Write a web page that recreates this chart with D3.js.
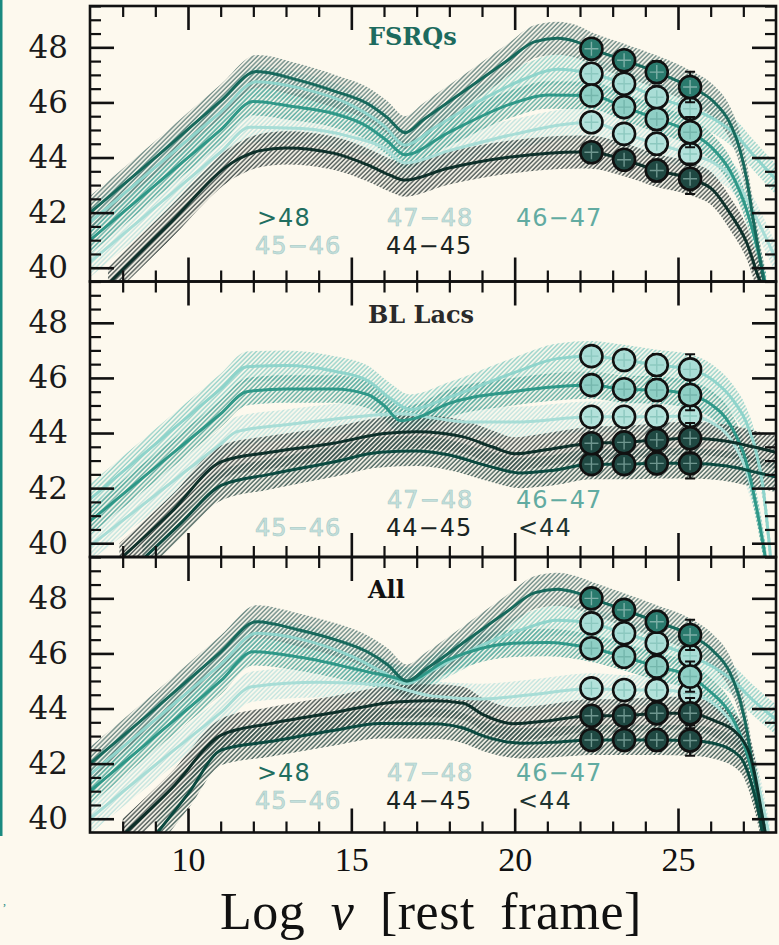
<!DOCTYPE html>
<html><head><meta charset="utf-8">
<script src="https://cdn.jsdelivr.net/npm/d3@7"></script>
<style>html,body{margin:0;padding:0;background:#fdf9ee;} svg{display:block}</style>
</head><body><svg id="chart" width="779" height="945"></svg>
<script>
// ---------------- DATA ----------------
const panelTitles = ["FSRQs", "BL Lacs", "All"];
const binLabels = {gt48: ">48", b4748: "47\u221248", b4647: "46\u221247", b4546: "45\u221246", b4445: "44\u221245", lt44: "<44"};
const xTickLabels = [10, 15, 20, 25];
const yTickLabels = [40, 42, 44, 46, 48];
const pointX = [22.35, 23.35, 24.35, 25.37];
const pointErr = [0.25, 0.3, 0.4, 0.55];
const bandHalf = {gt48: 0.6, b4748: 0.55, b4647: 0.5, b4546: 0.55, b4445: 0.6, lt44: 0.55};

// FSRQs
const fsrqGt48 = [[7,42.0],[9,44.0],[11,46.05],[12.1,47.12],[13.4,46.8],[14.5,46.4],[15.5,45.95],[16.1,45.45],[16.64,44.9],[17.2,45.37],[18.5,46.45],[19.8,47.54],[20.6,48.2],[21.3,48.33],[21.9,48.2],[22.35,47.95],[23.35,47.53],[24.35,47.1],[25.37,46.56],[26.07,46.05],[26.59,45.25],[26.9,44.27],[27.11,43.18],[27.29,41.84],[27.5,40.39],[27.66,39.3]];
const fsrq4748 = [[7,41.65],[9,43.65],[11,45.65],[12.1,46.75],[13.5,46.5],[15.0,45.9],[16.0,45.15],[16.64,44.45],[17.5,45.05],[19,46.1],[20.3,46.85],[21.3,47.2],[22.35,47.04],[23.35,46.68],[24.35,46.19],[25.37,45.77],[26.1,45.4],[26.7,44.9],[27.3,44.1],[28,43.2]];
const fsrq4647 = [[7,41.0],[9,43.0],[11,45.0],[12.0,46.03],[13.2,45.85],[14.45,45.6],[15.5,45.12],[16.1,44.6],[16.64,44.1],[17.93,44.88],[19.95,45.97],[21.0,46.27],[22.35,46.25],[23.35,45.83],[24.35,45.4],[25.37,44.92],[26.0,44.4],[26.6,43.5],[27.1,42.1],[27.45,40.6],[27.7,39.3]];
const fsrq4546 = [[7,40.2],[9,42.2],[11,44.2],[11.9,45.1],[13.5,45.05],[15,44.75],[16.0,44.35],[16.64,43.8],[18,44.25],[20,44.85],[21.5,45.2],[22.35,45.28],[23.35,44.86],[24.35,44.5],[25.37,44.13],[26.1,43.8],[26.8,43.1],[27.4,41.8],[28,40.3]];
const fsrq4445 = [[7.55,39.4],[9.35,41.5],[11.49,43.91],[12.2,44.25],[13.0,44.35],[14.45,44.16],[15.5,43.73],[16.2,43.35],[16.64,43.18],[17.93,43.6],[19.95,44.03],[22.0,44.2],[22.35,44.19],[23.35,43.92],[24.35,43.53],[25.37,43.23],[26.07,42.82],[26.59,41.98],[27.11,40.89],[27.5,39.55],[27.6,39.3]];
const fsrqPtsGt48 = [47.95, 47.53, 47.1, 46.56];
const fsrqPts4748 = [47.04, 46.68, 46.19, 45.77];
const fsrqPts4647 = [46.25, 45.83, 45.4, 44.92];
const fsrqPts4546 = [45.28, 44.86, 44.5, 44.13];
const fsrqPts4445 = [44.19, 43.92, 43.53, 43.23];

// BL Lacs
const bl4748 = [[7,41.6],[9,43.6],[11,45.6],[11.8,46.41],[13,46.45],[14.45,46.25],[15.5,45.9],[16.2,45.25],[16.8,44.85],[18,45.3],[20,46.2],[21.3,46.7],[22.35,46.79],[23.35,46.65],[24.35,46.47],[25.37,46.31],[26.07,45.92],[26.68,45.2],[27.1,44.36],[27.4,43.27],[27.6,42.05],[27.8,39.9],[27.85,39.3]];
const bl4647 = [[7,40.8],[9,42.75],[11,44.7],[11.8,45.5],[13,45.6],[14.45,45.6],[15.5,45.4],[16.0,45.0],[16.5,44.45],[17.0,44.55],[17.93,45.05],[19.95,45.5],[22.35,45.74],[23.35,45.59],[24.35,45.56],[25.37,45.38],[26.0,45.05],[26.6,44.3],[27.1,42.9],[27.45,41.0],[27.7,39.3]];
const bl4546 = [[7,39.9],[9,41.75],[11,43.6],[11.5,44.05],[13,44.3],[14.45,44.5],[16.5,44.7],[17.5,44.55],[18.5,44.4],[20,44.4],[22.35,44.59],[23.35,44.59],[24.35,44.59],[25.37,44.62],[26.0,44.4],[26.6,43.8],[27.1,42.6],[27.5,40.8],[27.7,39.3]];
const bl4445 = [[7.9,39.4],[9.5,41.15],[11.03,42.96],[12.5,43.3],[14.45,43.63],[16.0,43.98],[17.0,44.05],[18.4,43.87],[19.3,43.5],[20.0,43.25],[21.0,43.4],[22.35,43.63],[23.35,43.66],[24.35,43.75],[25.37,43.81],[26.5,43.7],[27.3,43.5],[28,43.3]];
const blLt44 = [[8.6,39.4],[9.8,40.75],[11.03,42.11],[12.5,42.5],[14.45,42.95],[15.88,43.3],[17.0,43.35],[18.0,43.2],[19.2,42.8],[20.2,42.55],[21.2,42.65],[22.35,42.87],[23.35,42.87],[24.35,42.9],[25.37,42.9],[26.5,42.8],[27.3,42.6],[28,42.4]];
const blPts4748 = [46.79, 46.65, 46.47, 46.31];
const blPts4647 = [45.74, 45.59, 45.56, 45.38];
const blPts4546 = [44.59, 44.59, 44.59, 44.62];
const blPts4445 = [43.63, 43.66, 43.75, 43.81];
const blPtsLt44 = [42.87, 42.87, 42.9, 42.9];

// All
const allGt48 = [[7,42.0],[9,44.0],[11,46.05],[12.1,47.15],[13.4,46.85],[14.5,46.5],[15.5,46.05],[16.1,45.6],[16.7,45.0],[17.3,45.45],[18.5,46.45],[19.8,47.55],[20.6,48.2],[21.3,48.33],[21.9,48.2],[22.35,48.0],[23.35,47.58],[24.35,47.15],[25.37,46.67],[26.07,46.1],[26.59,45.3],[26.9,44.3],[27.11,43.2],[27.29,41.85],[27.5,40.4],[27.66,39.3]];
const all4748 = [[7,41.6],[9,43.6],[11,45.6],[12.1,46.73],[13.5,46.5],[15.0,45.9],[16.0,45.3],[16.7,44.9],[17.5,45.4],[19,46.3],[20.3,46.9],[21.3,47.2],[22.35,47.09],[23.35,46.73],[24.35,46.37],[25.37,45.91],[26.1,45.5],[26.7,45.0],[27.3,44.3],[28,43.6]];
const all4647 = [[7,41.0],[9,43.0],[11,45.0],[12.0,46.06],[13.5,45.85],[15.47,45.34],[16.4,45.1],[16.7,45.0],[17.93,45.76],[19.95,46.37],[21.0,46.4],[22.35,46.19],[23.35,45.88],[24.35,45.52],[25.37,45.16],[26.0,44.6],[26.6,43.8],[27.1,42.4],[27.45,40.8],[27.7,39.3]];
const all4546 = [[7,40.0],[9,41.95],[11,43.85],[11.95,44.79],[14,44.95],[16,44.85],[17.5,44.45],[19,44.35],[20.5,44.5],[22.35,44.73],[23.35,44.67],[24.35,44.67],[25.37,44.55],[26,44.25],[26.7,43.4],[27.3,42.0],[27.8,39.3]];
const all4445 = [[8.0,39.4],[9.5,41.1],[11.03,43.04],[12.5,43.45],[14.45,43.85],[16.49,44.25],[17.5,44.28],[18.43,44.19],[19.0,43.8],[19.96,43.45],[21,43.55],[22.35,43.74],[23.35,43.74],[24.35,43.83],[25.37,43.83],[26.07,43.58],[26.9,42.98],[27.3,41.9],[27.55,40.3],[27.7,39.3]];
const allLt44 = [[9.0,39.4],[10.0,40.9],[11.03,42.5],[12.5,42.8],[14.45,43.2],[15.88,43.46],[17.5,43.45],[18.4,43.3],[19.1,42.98],[20.2,42.74],[21.2,42.78],[22.35,42.86],[23.35,42.86],[24.35,42.86],[25.37,42.84],[26.07,42.74],[26.9,42.25],[27.3,41.04],[27.55,39.7],[27.6,39.3]];
const allPtsGt48 = [48.0, 47.58, 47.15, 46.67];
const allPts4748 = [47.09, 46.73, 46.37, 45.91];
const allPts4647 = [46.19, 45.88, 45.52, 45.16];
const allPts4546 = [44.73, 44.67, 44.67, 44.55];
const allPts4445 = [43.74, 43.74, 43.83, 43.83];
const allPtsLt44 = [42.86, 42.86, 42.86, 42.84];

// ---------------- STYLE / LAYOUT ----------------
const W = 779, H = 945;
const plotL = 90, plotR = 776, panelH = 275.5;
const panelTops = [6, 281.5, 557];
const lineColor = {gt48:'#17695c', b4748:'#8fd4cb', b4647:'#2f9888', b4546:'#a8ddd6', b4445:'#0e302a', lt44:'#0b4a40'};
const hatchColor = {gt48:'#5f7f7a', b4748:'#8fcfc6', b4647:'#55a89c', b4546:'#bde2dd', b4445:'#3b4745', lt44:'#35524d'};
const legendColor = {gt48:'#1f6e60', b4748:'#c4e1dd', b4647:'#62aba1', b4546:'#c4e1dd', b4445:'#1a2422', lt44:'#1f3431'};
const circleFill = {gt48:'#2a7a6d', b4748:'#a9ddd6', b4647:'#8fcfc5', b4546:'#b3e2db', b4445:'#1f4842', lt44:'#1f4842'};
const crossColor = {gt48:'#7fb0a8', b4748:'#8cc8bf', b4647:'#74b6ac', b4546:'#8cc8bf', b4445:'#6f968f', lt44:'#6f968f'};
const legendSlot = {gt48:[0,0], b4748:[0,1], b4647:[0,2], b4546:[1,0], b4445:[1,1], lt44:[1,2]};
const slotX = [[257,387,516],[255,386,518]];
const bandOrder = ['b4546','b4748','b4647','gt48','b4445','lt44'];
const lineOrder = ['b4546','b4748','b4647','gt48','lt44','b4445'];

const panels = [
  {title: panelTitles[0], titleColor:'#1d6b5e', titleY:45, legendY:[226,254],
   curves:{gt48:fsrqGt48, b4748:fsrq4748, b4647:fsrq4647, b4546:fsrq4546, b4445:fsrq4445},
   pts:{gt48:fsrqPtsGt48, b4748:fsrqPts4748, b4647:fsrqPts4647, b4546:fsrqPts4546, b4445:fsrqPts4445}},
  {title: panelTitles[1], titleColor:'#2a2a2a', titleY:323, legendY:[508,536],
   curves:{b4748:bl4748, b4647:bl4647, b4546:bl4546, b4445:bl4445, lt44:blLt44},
   pts:{b4748:blPts4748, b4647:blPts4647, b4546:blPts4546, b4445:blPts4445, lt44:blPtsLt44}},
  {title: panelTitles[2], titleColor:'#111', titleY:598, legendY:[781,809],
   curves:{gt48:allGt48, b4748:all4748, b4647:all4647, b4546:all4546, b4445:all4445, lt44:allLt44},
   pts:{gt48:allPtsGt48, b4748:allPts4748, b4647:allPts4647, b4546:allPts4546, b4445:allPts4445, lt44:allPtsLt44}}
];

const svg = d3.select('#chart');
svg.append('rect').attr('width', W).attr('height', H).attr('fill', '#fdf9ee');
const defs = svg.append('defs');
Object.keys(hatchColor).forEach(k => {
  const p = defs.append('pattern').attr('id', 'h_' + k).attr('patternUnits', 'userSpaceOnUse')
    .attr('width', 3.2).attr('height', 3.2).attr('patternTransform', 'rotate(45)');
  p.append('line').attr('x1', 1).attr('y1', 0).attr('x2', 1).attr('y2', 3.2)
    .attr('stroke', hatchColor[k]).attr('stroke-width', 1.5);
});

// left teal rule and stray mark
svg.append('rect').attr('x', 0).attr('y', 0).attr('width', 2.5).attr('height', 836).attr('fill', '#1a8a80');
svg.append('text').attr('x', 3).attr('y', 905).attr('font-size', 12).attr('fill', '#1a8a80').text(',');

const x = d3.scaleLinear().domain([7, 28]).range([plotL, plotR]);

panels.forEach((P, i) => {
  const top = panelTops[i], bot = top + panelH;
  const y = d3.scaleLinear().domain([39.5, 49.5]).range([bot, top]);
  const cid = 'clip' + i;
  defs.append('clipPath').attr('id', cid).append('rect')
    .attr('x', plotL).attr('y', top).attr('width', plotR - plotL).attr('height', panelH);
  const g = svg.append('g').attr('clip-path', `url(#${cid})`);
  const line = d3.line().x(d => x(d[0])).y(d => y(d[1])).curve(d3.curveMonotoneX);
  bandOrder.forEach(k => {
    if (!P.curves[k]) return;
    const h = bandHalf[k];
    const area = d3.area().x(d => x(d[0])).y0(d => y(d[1] - h)).y1(d => y(d[1] + h)).curve(d3.curveMonotoneX);
    g.append('path').attr('d', area(P.curves[k])).attr('fill', `url(#h_${k})`).attr('opacity', 0.9);
  });
  lineOrder.forEach(k => {
    if (!P.curves[k]) return;
    g.append('path').attr('d', line(P.curves[k])).attr('fill', 'none')
      .attr('stroke', lineColor[k]).attr('stroke-width', 3).attr('stroke-linejoin', 'round');
  });
  // points
  lineOrder.forEach(k => {
    if (!P.pts[k]) return;
    P.pts[k].forEach((v, j) => {
      const cx = x(pointX[j]), cy = y(v), e = pointErr[j];
      g.append('line').attr('x1', cx).attr('x2', cx).attr('y1', y(v - e)).attr('y2', y(v + e))
        .attr('stroke', '#111').attr('stroke-width', 2);
      [v - e, v + e].forEach(t => g.append('line').attr('x1', cx - 5).attr('x2', cx + 5)
        .attr('y1', y(t)).attr('y2', y(t)).attr('stroke', '#111').attr('stroke-width', 2));
      g.append('circle').attr('cx', cx).attr('cy', cy).attr('r', 11)
        .attr('fill', circleFill[k]).attr('stroke', '#111').attr('stroke-width', 2.6);
      g.append('line').attr('x1', cx - 7).attr('x2', cx + 7).attr('y1', cy).attr('y2', cy)
        .attr('stroke', crossColor[k]).attr('stroke-width', 1.4);
      g.append('line').attr('x1', cx).attr('x2', cx).attr('y1', cy - 7).attr('y2', cy + 7)
        .attr('stroke', crossColor[k]).attr('stroke-width', 1.4);
    });
  });

  // frame
  svg.append('rect').attr('x', plotL).attr('y', top).attr('width', plotR - plotL).attr('height', panelH)
    .attr('fill', 'none').attr('stroke', '#111').attr('stroke-width', 2.6);

  // ticks via axes
  const xMajor = xTickLabels;
  const xMinor = d3.range(8, 28, 1).filter(v => !xMajor.includes(v));
  const yMajor = yTickLabels;
  const yMinor = d3.range(40, 49.51, 0.5).filter(v => !yMajor.includes(v));
  const tickAxis = (axis, vals, size, tx, ty, sw) => {
    const a = svg.append('g').attr('transform', `translate(${tx},${ty})`)
      .call(axis.tickValues(vals).tickSize(size).tickFormat(''));
    a.select('.domain').remove();
    a.selectAll('line').attr('stroke', '#111').attr('stroke-width', sw);
  };
  tickAxis(d3.axisTop(x), xMajor, 24, 0, bot, 2.6);
  tickAxis(d3.axisTop(x), xMinor, 11, 0, bot, 2.2);
  tickAxis(d3.axisBottom(x), xMajor, 24, 0, top, 2.6);
  tickAxis(d3.axisBottom(x), xMinor, 11, 0, top, 2.2);
  tickAxis(d3.axisRight(y), yMajor, 24, plotL, 0, 2.6);
  tickAxis(d3.axisRight(y), yMinor, 11, plotL, 0, 2.2);
  tickAxis(d3.axisLeft(y), yMajor, 24, plotR, 0, 2.6);
  tickAxis(d3.axisLeft(y), yMinor, 11, plotR, 0, 2.2);

  // y labels
  const yl = svg.append('g').attr('transform', `translate(${plotL},0)`)
    .call(d3.axisLeft(y).tickValues(yMajor).tickSize(0).tickPadding(22));
  yl.select('.domain').remove();
  yl.selectAll('text').attr('font-family', 'DejaVu Serif').attr('font-size', 31).attr('fill', '#1a1a1a');

  // title
  svg.append('text').attr('x', 368).attr('y', P.titleY).attr('font-family', 'DejaVu Serif')
    .attr('font-weight', 'bold').attr('font-size', 24).attr('fill', P.titleColor).text(P.title);

  // legend labels
  Object.keys(P.curves).forEach(k => {
    const [r, c] = legendSlot[k];
    const t = svg.append('text').attr('x', slotX[r][c]).attr('y', P.legendY[r])
      .attr('font-family', 'DejaVu Sans').attr('font-size', 24).attr('letter-spacing', 1)
      .attr('fill', legendColor[k]).text(binLabels[k]);
    if (k === 'b4748' || k === 'b4546') t.attr('stroke', '#a7c8c4').attr('stroke-width', 0.6);
  });

  if (i === 2) {
    const xl = svg.append('g').attr('transform', `translate(0,${bot})`)
      .call(d3.axisBottom(x).tickValues(xTickLabels).tickSize(0).tickPadding(14));
    xl.select('.domain').remove();
    xl.selectAll('text').attr('font-family', 'Liberation Serif').attr('font-size', 34).attr('fill', '#111');
  }
});

const at = svg.append('text').attr('x', 431).attr('y', 929).attr('text-anchor', 'middle')
  .attr('font-family', 'Liberation Serif').attr('font-size', 52).attr('fill', '#111')
  .attr('letter-spacing', 0.5).attr('word-spacing', 12);
at.append('tspan').text('Log ');
at.append('tspan').attr('font-style', 'italic').text('\u03bd');
at.append('tspan').text(' [rest frame]');
</script></body></html>
